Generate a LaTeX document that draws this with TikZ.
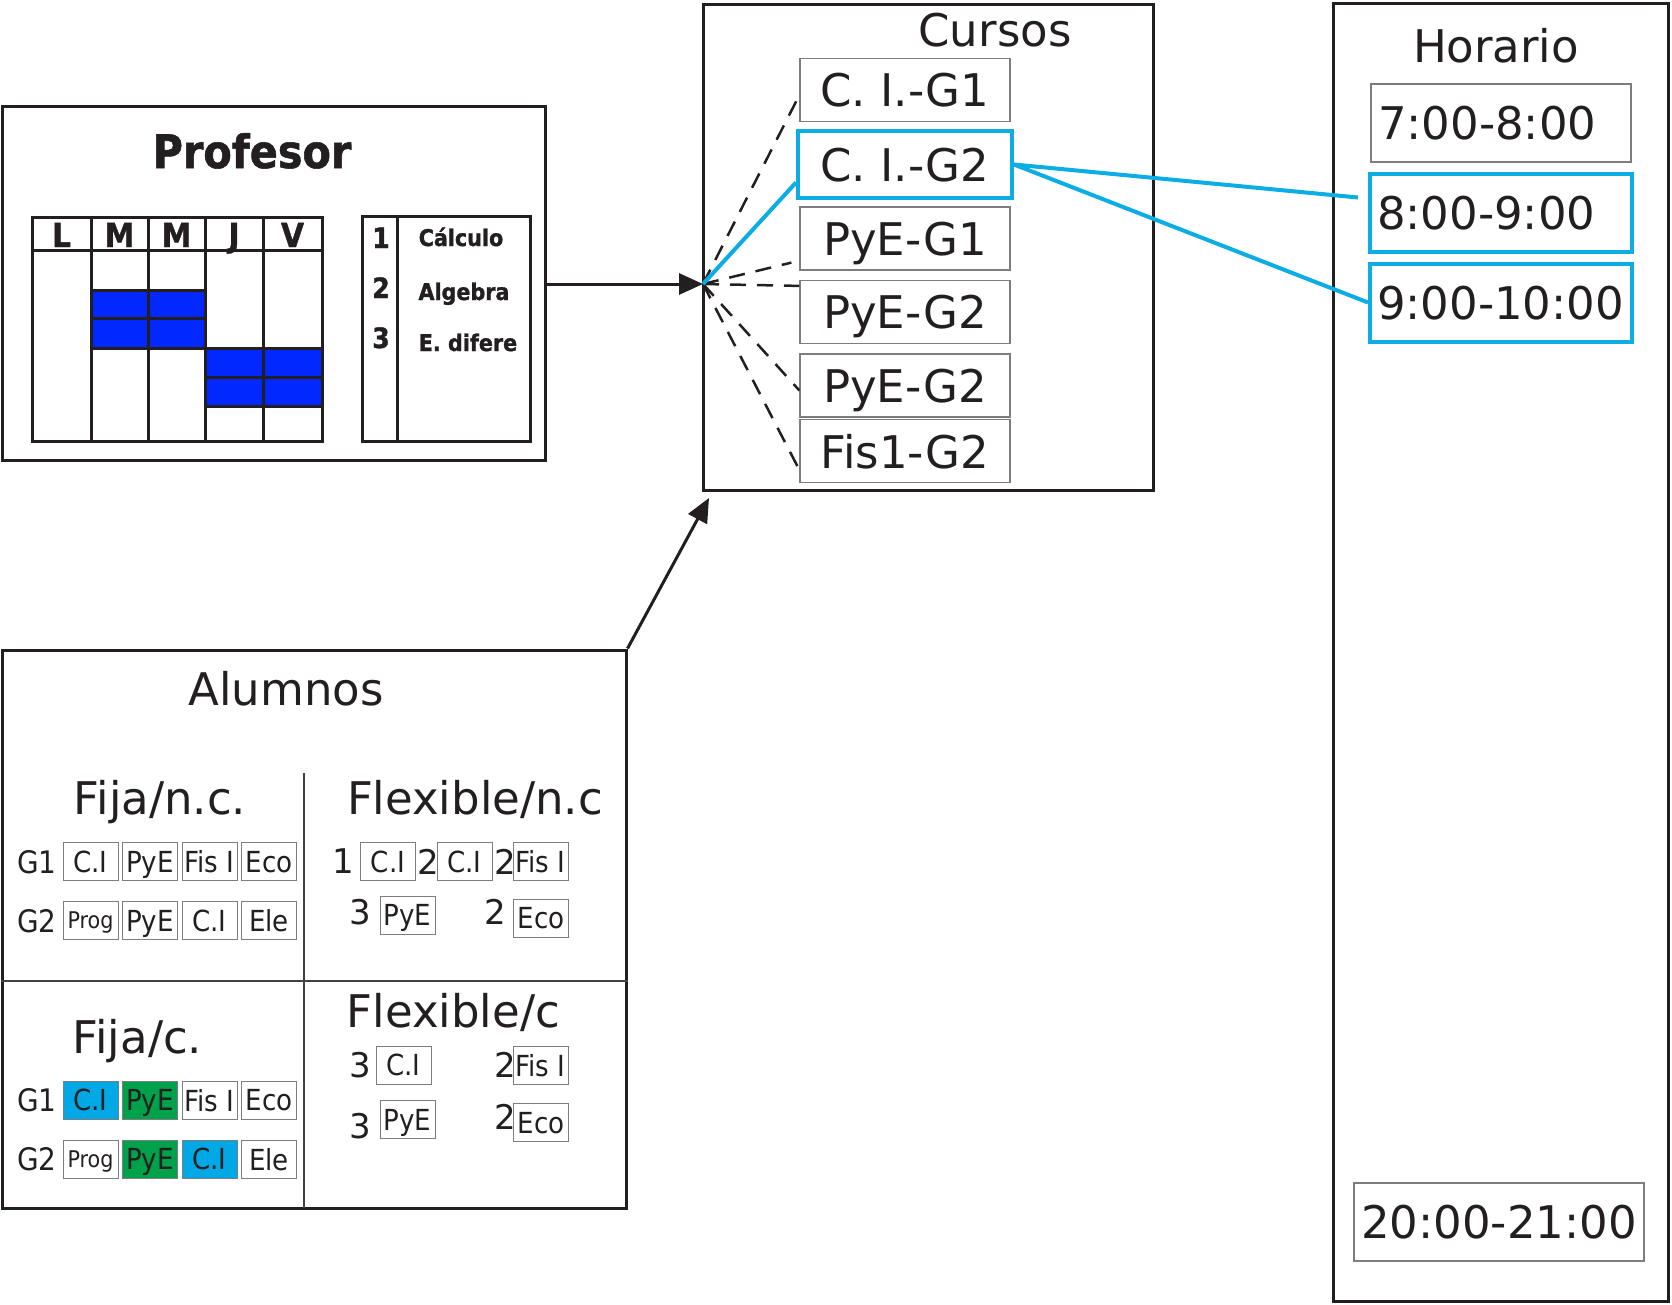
\documentclass[tikz,border=0pt]{standalone}
\usepackage{fontspec}
\setmainfont{DejaVu Sans}
\newfontfamily\profbold{DejaVu Sans Condensed Bold}[FakeBold=1.2]
\newfontfamily\condfont{DejaVu Sans Condensed}
\usetikzlibrary{arrows.meta,positioning}
\definecolor{ink}{RGB}{35,31,32}
\definecolor{boxgray}{RGB}{125,125,125}
\definecolor{pickblue}{RGB}{12,172,228}
\definecolor{slotblue}{RGB}{0,40,255}
\definecolor{cifill}{RGB}{0,169,230}
\definecolor{pyefill}{RGB}{0,161,75}
\tikzset{
  panel/.style={draw=ink, line width=3pt, inner sep=0pt},
  title/.style={text=ink, anchor=base, inner sep=0pt, font=\fontsize{45}{54}\selectfont},
  course/.style={draw=boxgray, line width=1.2pt, minimum width=210pt, minimum height=63pt,
    inner sep=0pt, text depth=0pt, text=ink, font=\fontsize{45}{54}\selectfont},
  chosen/.style={draw=pickblue, line width=4pt, minimum width=214pt, minimum height=67pt},
  hour/.style={draw=boxgray, line width=1.2pt, minimum height=78pt, inner xsep=7pt,
    inner ysep=0pt, text depth=0pt, text=ink, font=\fontsize{45}{54}\selectfont},
  subj/.style={draw=boxgray, line width=1pt, minimum width=55pt, minimum height=38pt,
    inner sep=0pt, text depth=0pt, text=ink, font=\condfont\fontsize{29}{32}\selectfont},
  tag/.style={text=ink, inner sep=0pt, text depth=0pt, font=\condfont\fontsize{31}{34}\selectfont},
  num/.style={text=ink, inner sep=0pt, text depth=0pt, font=\fontsize{34}{38}\selectfont},
  grid/.style={draw=ink, line width=3pt},
  slot/.style={fill=slotblue, draw=ink, line width=3pt},
  day/.style={text=ink, anchor=base, inner sep=0pt, font=\profbold\fontsize{33}{38}\selectfont},
  subjname/.style={text=ink, anchor=base, inner sep=0pt, font=\profbold\fontsize{23}{26}\selectfont},
  link/.style={draw=ink, line width=3pt, -{Triangle[length=24pt,width=21pt]}},
  option/.style={draw=ink, line width=2.5pt, dash pattern=on 16pt off 11pt},
  pick/.style={draw=pickblue, line width=4pt},
  divider/.style={draw=ink!85, line width=1.5pt}
}
\begin{document}
\begin{tikzpicture}[x=1pt,y=-1pt]
    \useasboundingbox (0,0) rectangle (1672,1304);
    % paneles
    \node[panel, minimum width=543pt, minimum height=354pt] (profesor) at (273.5,283) {};
    \node[panel, minimum width=450pt, minimum height=486pt] (cursos) at (928,247) {};
    \node[panel, minimum width=335pt, minimum height=1298pt] (horario) at (1500.5,652) {};
    \node[panel, minimum width=624pt, minimum height=558pt] (alumnos) at (314,929) {};
    \node[title, font=\profbold\fontsize{46}{54}\selectfont] (tprof) at (252,168) {Profesor};
    \node[title] (tcur) at (995,46) {Cursos};
    \node[title] (thor) at (1496,62) {Horario};
    \node[title] (talu) at (286,705) {Alumnos};

    % horario del profesor
    \draw[grid] (32,217) rectangle (322,441);
    \draw[grid] (32,250) -- (322,250);
    \foreach \x in {91,148,205,263} \draw[grid] (\x,217) -- (\x,441);
    \foreach \xa/\xb/\ya/\yb in {91/148/290/318, 148/205/290/318, 91/148/318/348, 148/205/318/348,
        205/263/348/377, 263/322/348/377, 205/263/377/406, 263/322/377/406}
      \draw[slot] (\xa,\ya) rectangle (\xb,\yb);
    \foreach \x/\d [count=\i] in {61.5/L,119.5/M,176.5/M,234/J,292.5/V}
      \node[day] (d\i) at (\x,247) {\d};
    \draw[grid] (362,216) rectangle (530,441);
    \draw[grid] (397,216) -- (397,441);
    \node[day, font=\profbold\fontsize{28}{30}\selectfont] (n1) at (381,248) {1};
    \node[day, font=\profbold\fontsize{28}{30}\selectfont] (n2) at (381,298) {2};
    \node[day, font=\profbold\fontsize{28}{30}\selectfont] (n3) at (381,348) {3};
    \node[subjname] (s1) at (461,246) {Cálculo};
    \node[subjname] (s2) at (464,300) {Algebra};
    \node[subjname] (s3) at (468,351) {E. difere};

    % cursos
    \node[course] (c1) at (905,90) {C. I.-G1};
    \node[course, chosen] (c2) at (905,164.5) {C. I.-G2};
    \node[course] (p1) at (905,238.5) {PyE-G1};
    \node[course] (p2) at (905,312) {PyE-G2};
    \node[course] (p3) at (905,385.5) {PyE-G2};
    \node[course] (f1) at (905,451) {Fis1-G2};

    % horas
    \node[hour, minimum width=260pt, text width=246pt, align=left] (h1) at (1501,123) {7:00-8:00};
    \node[hour, minimum width=262pt, text width=248pt, align=left, draw=pickblue, line width=4pt] (h2) at (1501,212.5) {8:00-9:00};
    \node[hour, minimum width=262pt, text width=248pt, align=left, draw=pickblue, line width=4pt] (h3) at (1501,302.5) {9:00-10:00};
    \node[hour, minimum width=290pt] (h4) at (1499,1222) {20:00-21:00};

    % conexiones
    \coordinate (fan) at (703,284);
    \coordinate (tip) at (709,498);
    \draw[link] (profesor.east |- fan) -- (fan);
    \draw[link] (alumnos.north east) -- (tip);
    \draw[option] (fan) -- ([yshift=-5pt]c1.west);
    \draw[option] (fan) -- ([xshift=-8pt,yshift=8pt]p1.south west);
    \draw[option] (fan) -- ([yshift=-6pt]p2.north west);
    \draw[option] (fan) -- ([yshift=-5pt]p3.west);
    \draw[option] (fan) -- ([yshift=-19pt]f1.west);
    \draw[pick] (fan) -- ([yshift=-18pt]c2.west);
    \draw[pick] (c2.east) -- ([xshift=-10pt,yshift=15pt]h2.west);
    \draw[pick] (c2.east) -- (h3.west);

    % alumnos
    \draw[divider] (304,773) -- (304,1208);
    \draw[divider] (alumnos.west |- 0,981) -- (alumnos.east |- 0,981);
    \node[title] (tfnc) at (160,814) {Fija/n.c.};
    \node[title] (txnc) at (475,814) {Flexible/n.c};
    \node[title] (tfc) at (137.5,1053) {Fija/c.};
    \node[title] (txc) at (453.5,1027) {Flexible/c};
    \foreach \y/\g/\r in {861.5/G1/a, 920.5/G2/b, 1100/G1/c, 1159/G2/d}
      \node[tag] (g\r) at (37,\y) {\g};
    \foreach \t/\f [count=\i] in {C.I/white,PyE/white,Fis I/white,Eco/white}
      \node[subj, fill=\f] (a\i) at ({31+59.5*\i},861.5) {\t};
    \node[subj, font=\condfont\fontsize{23}{26}\selectfont] (b1) at (90.5,920.5) {Prog};
    \foreach \t/\f [count=\i from 2] in {PyE/white,C.I/white,Ele/white}
      \node[subj, fill=\f] (b\i) at ({31+59.5*\i},920.5) {\t};
    \foreach \t/\f [count=\i] in {C.I/cifill,PyE/pyefill,Fis I/white,Eco/white}
      \node[subj, fill=\f] (c\i) at ({31+59.5*\i},1100) {\t};
    \node[subj, font=\condfont\fontsize{23}{26}\selectfont] (d1) at (90.5,1159) {Prog};
    \foreach \t/\f [count=\i from 2] in {PyE/pyefill,C.I/cifill,Ele/white}
      \node[subj, fill=\f] (d\i) at ({31+59.5*\i},1159) {\t};
    % flexibles
    \node[num] (k1) at (343,861.5) {1};
    \node[subj] (x1) at (388,861.5) {C.I};
    \node[num] (k2) at (428,861.5) {2};
    \node[subj] (x2) at (464.5,861.5) {C.I};
    \node[num] (k3) at (505,861.5) {2};
    \node[subj] (x3) at (540.5,861.5) {Fis I};
    \node[num] (k4) at (360,912) {3};
    \node[subj] (x4) at (407.5,915) {PyE};
    \node[num] (k5) at (495,912) {2};
    \node[subj] (x5) at (541,918) {Eco};
    \node[num] (k6) at (360,1065) {3};
    \node[subj] (y1) at (403.5,1065) {C.I};
    \node[num] (k7) at (505,1065) {2};
    \node[subj] (y2) at (540.5,1065) {Fis I};
    \node[num] (k8) at (360,1126) {3};
    \node[subj] (y3) at (407.5,1119.5) {PyE};
    \node[num] (k9) at (505,1117) {2};
    \node[subj] (y4) at (541,1122.5) {Eco};
\end{tikzpicture}
\end{document}
